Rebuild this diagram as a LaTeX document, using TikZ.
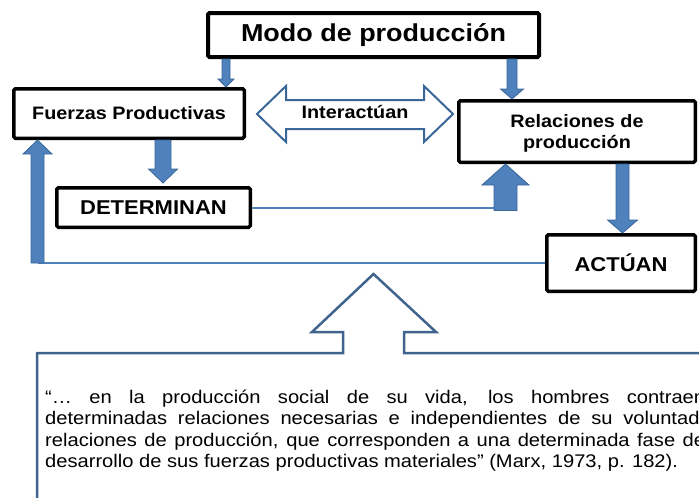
\documentclass[tikz,border=0pt]{standalone}
\usepackage{fontspec}
\setmainfont{Liberation Sans}[FakeStretch=1.1]
\usetikzlibrary{calc}
\definecolor{blockblue}{HTML}{4F81BD}
\definecolor{blockedge}{HTML}{3A6699}
\definecolor{calloutblue}{HTML}{41648F}

\newcommand{\blockarrow}[6][]{%
  \path[blockfill,#1] let \p1=#2, \p2=#3,
      \n1={veclen(\x2-\x1,\y2-\y1)}, \n2={atan2(\y2-\y1,\x2-\x1)} in
    [shift={(\p1)}, rotate=\n2]
    (0,#4) -- (\n1-#6,#4) -- (\n1-#6,#5) -- (\n1,0) -- (\n1-#6,-#5) -- (\n1-#6,-#4) -- (0,-#4) -- cycle;}

\begin{document}
\begin{tikzpicture}[
    x=1pt, y=-1pt,
    box/.style={rectangle, draw=black, line width=3.5pt, rounded corners=1.5pt, fill=white,
        inner sep=0pt, align=center, font=\bfseries\fontsize{18}{21}\selectfont},
    blockfill/.style={fill=blockblue, draw=blockedge, line width=0.8pt},
    link/.style={draw=blockblue, line width=2pt},
    hollowarrow/.style={draw=blockedge, fill=white, line width=2pt},
    callout/.style={draw=calloutblue, line width=2.5pt},
    quote/.style={anchor=north west, inner sep=0pt, text width=660pt, align=justify,
        font=\fontsize{18.3}{21.2}\selectfont}
]
\clip (0,0) rectangle (699,498);
\fill[white] (0,0) rectangle (699,498);

\node (Modo) [box, line width=4pt, minimum width=331pt, minimum height=44pt,
    font=\bfseries\fontsize{24.5}{28}\selectfont] at (373.5,35) {Modo de producción};
\node (Fuerzas) [box, minimum width=230.5pt, minimum height=49.5pt] at (129,113.5) {Fuerzas Productivas};
\node (Relaciones) [box, minimum width=236.5pt, minimum height=61.5pt] at (577,131.5)
    {\rule{0pt}{17pt}Relaciones de\\producción};
\node (Determinan) [box, minimum width=193.5pt, minimum height=39.5pt,
    font=\bfseries\fontsize{20}{24}\selectfont] at (153.5,207.5) {DETERMINAN};
\node (Actuan) [box, minimum width=148.5pt, minimum height=56.5pt,
    font=\bfseries\fontsize{20}{24}\selectfont] at (621,263) {ACTÚAN};

\coordinate (intL) at (257,114);
\coordinate (intR) at (453,114);
\draw[hollowarrow] (intL) -- ++(29,-28) -- ++(0,14) -- ($(intR)+(-29,-14)$) -- ++(0,-14) -- (intR)
    -- ++(-29,28) -- ++(0,-13) -- ($(intL)+(29,15)$) -- ++(0,13) -- cycle;
\node (Interact) [font=\bfseries\fontsize{18}{21}\selectfont] at ($(intL)!0.5!(intR)+(0,-2)$) {Interactúan};

\coordinate (detEnd) at (Determinan.east -| 505.5,0);
\coordinate (actEnd) at (Actuan.west -| 37.5,0);
\draw[link] (Determinan.east) -- (detEnd);
\draw[link] (Actuan.west) -- (actEnd);

\blockarrow{(Modo.south -| 226,0)}{(Fuerzas.north -| 226,0)}{4}{8}{8}
\blockarrow{(Modo.south -| 512,0)}{(Relaciones.north -| 512,0)}{5}{11.5}{10}
\blockarrow{(Fuerzas.south -| 163,0)}{($(Determinan.north -| 163,0)+(0,-3)$)}{8}{14.5}{14}
\blockarrow{($(detEnd)+(0,3)$)}{(Relaciones.south -| detEnd)}{11.5}{23.5}{21}
\blockarrow{(Relaciones.south -| 622.5,0)}{(Actuan.north -| 622.5,0)}{6.5}{15}{13}
\blockarrow{(actEnd)}{(Fuerzas.south -| actEnd)}{6.5}{14.5}{14}

\draw[callout] (37,520) -- (37,353) -- (343,353) -- (343,332) -- (312,332) -- (373.5,274)
    -- (436,332) -- (404,332) -- (404,353) -- (720,353) -- (720,520);

\node (Cita) [quote] at (45,390) {“…  en la producción social de su vida, los hombres contraen\linebreak
determinadas relaciones necesarias e independientes de su voluntad,\linebreak
relaciones de producción, que corresponden a una determinada fase de\linebreak
desarrollo de sus fuerzas productivas materiales” (Marx, 1973, p. 182).};
\end{tikzpicture}
\end{document}
